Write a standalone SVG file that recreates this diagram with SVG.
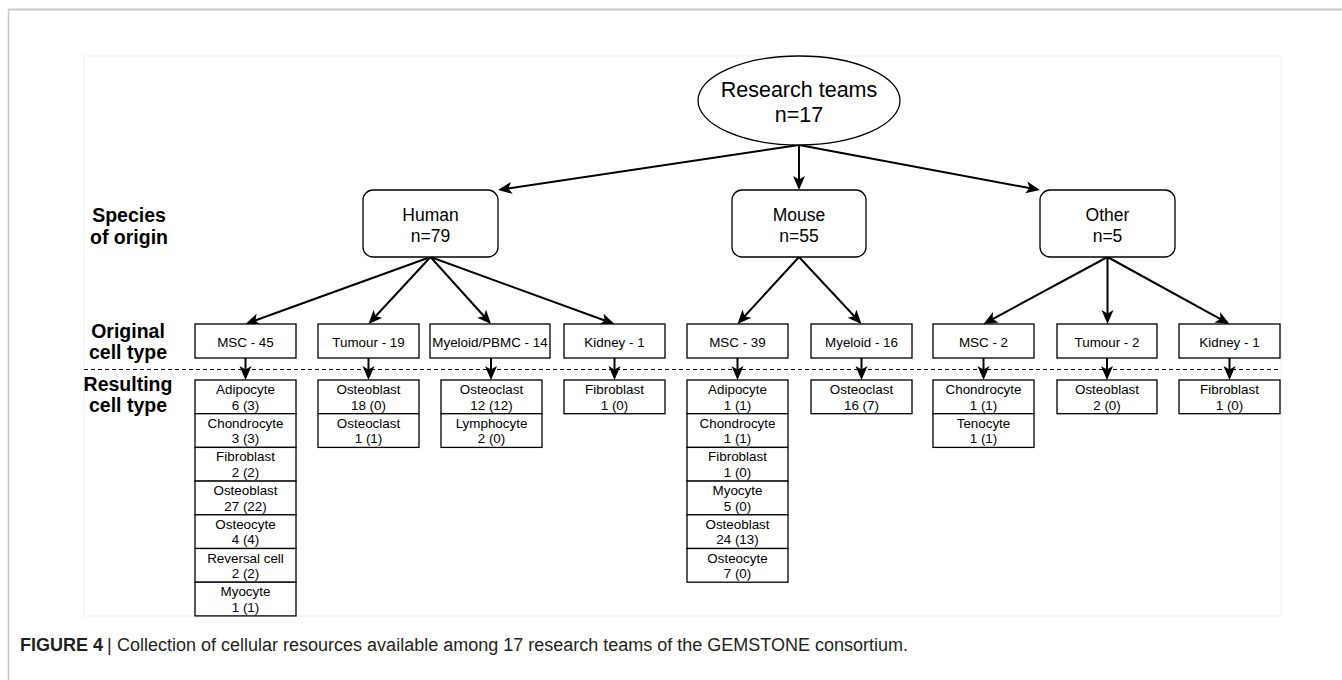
<svg xmlns="http://www.w3.org/2000/svg" width="1342" height="680" viewBox="0 0 1342 680">
<defs>
<style>
.box{fill:#fff;stroke:#000;stroke-width:1.3}
.rbox{fill:#fff;stroke:#000;stroke-width:1.3}
.t{font-family:"Liberation Sans",Arial,sans-serif;font-size:13.4px;text-anchor:middle;fill:#000}
.sp{font-size:17.5px}
.top{font-size:21.5px}
.lbl{font-family:"Liberation Sans",Arial,sans-serif;font-weight:bold;font-size:19.5px;text-anchor:middle;fill:#000}
.conn{stroke:#000;stroke-width:2;fill:none;marker-end:url(#arr)}
.cap{font-family:"Liberation Sans",Arial,sans-serif;font-size:18px;fill:#231f20}
</style>
<marker id="arr" markerUnits="userSpaceOnUse" markerWidth="16" markerHeight="14" viewBox="0 0 16 14" refX="11" refY="6" orient="auto">
<path d="M0,0 L14,6 L0,12 L3.5,6 Z" fill="#000"/>
</marker>
</defs>
<rect x="0" y="0" width="1342" height="680" fill="#fff"/>
<g id="frame">
<line x1="8" y1="9.5" x2="1342" y2="9.5" stroke="#c9c9c9" stroke-width="2"/>
<line x1="8.5" y1="9" x2="8.5" y2="680" stroke="#c9c9c9" stroke-width="1.5"/>
<rect x="84" y="56" width="1197" height="560" fill="none" stroke="#f0f0f0" stroke-width="1"/>
</g>
<g id="row-labels">
<text class="lbl" x="129" y="222">Species</text>
<text class="lbl" x="129" y="243.5">of origin</text>
<text class="lbl" x="128" y="338">Original</text>
<text class="lbl" x="128" y="359">cell type</text>
<text class="lbl" x="128" y="391">Resulting</text>
<text class="lbl" x="128" y="412">cell type</text>
</g>
<line id="divider" x1="84" y1="369.5" x2="1281" y2="369.5" stroke="#000" stroke-width="1" stroke-dasharray="4 3"/>
<g id="connectors">
<line class="conn" x1="799" y1="145" x2="500.97" y2="189.56"/>
<line class="conn" x1="799" y1="145" x2="799" y2="187"/>
<line class="conn" x1="799" y1="145" x2="1037.05" y2="189.45"/>
<line class="conn" x1="430.5" y1="257" x2="248.32" y2="322.98"/>
<line class="conn" x1="430.5" y1="257" x2="370.54" y2="321.8"/>
<line class="conn" x1="430.5" y1="257" x2="488.99" y2="321.77"/>
<line class="conn" x1="430.5" y1="257" x2="611.68" y2="322.97"/>
<line class="conn" x1="799" y1="257" x2="739.52" y2="321.78"/>
<line class="conn" x1="799" y1="257" x2="859.46" y2="321.8"/>
<line class="conn" x1="1107.5" y1="257" x2="986.13" y2="322.56"/>
<line class="conn" x1="1107.5" y1="257" x2="1107.5" y2="321"/>
<line class="conn" x1="1107.5" y1="257" x2="1226.87" y2="322.56"/>
<line class="conn" x1="245.5" y1="358" x2="245.5" y2="377"/>
<line class="conn" x1="368.5" y1="358" x2="368.5" y2="377"/>
<line class="conn" x1="491" y1="358" x2="491" y2="377"/>
<line class="conn" x1="614.5" y1="358" x2="614.5" y2="377"/>
<line class="conn" x1="737.5" y1="358" x2="737.5" y2="377"/>
<line class="conn" x1="861.5" y1="358" x2="861.5" y2="377"/>
<line class="conn" x1="983.5" y1="358" x2="983.5" y2="377"/>
<line class="conn" x1="1107" y1="358" x2="1107" y2="377"/>
<line class="conn" x1="1229.5" y1="358" x2="1229.5" y2="377"/>
</g>
<g id="research-teams">
<ellipse cx="799" cy="100.5" rx="101" ry="44.5" fill="#fff" stroke="#000" stroke-width="1.3"/>
<text class="t top" x="799" y="97">Research teams</text>
<text class="t top" x="799" y="122">n=17</text>
</g>
<g id="human">
<rect class="box" x="363" y="190" width="135" height="67" rx="10"/>
<text class="t sp" x="430.5" y="221">Human</text>
<text class="t sp" x="430.5" y="241.5">n=79</text>
</g>
<g id="mouse">
<rect class="box" x="732" y="190" width="134" height="67" rx="10"/>
<text class="t sp" x="799" y="221">Mouse</text>
<text class="t sp" x="799" y="241.5">n=55</text>
</g>
<g id="other">
<rect class="box" x="1040" y="190" width="135" height="67" rx="10"/>
<text class="t sp" x="1107.5" y="221">Other</text>
<text class="t sp" x="1107.5" y="241.5">n=5</text>
</g>
<g id="ct-human-msc"><rect class="box" x="195" y="324" width="101" height="34"/><text class="t" x="245.5" y="346.5">MSC - 45</text></g>
<g id="ct-human-tumour"><rect class="box" x="318" y="324" width="101" height="34"/><text class="t" x="368.5" y="346.5">Tumour - 19</text></g>
<g id="ct-human-myeloid"><rect class="box" x="430" y="324" width="120" height="34"/><text class="t" x="490" y="346.5">Myeloid/PBMC - 14</text></g>
<g id="ct-human-kidney"><rect class="box" x="564" y="324" width="101" height="34"/><text class="t" x="614.5" y="346.5">Kidney - 1</text></g>
<g id="ct-mouse-msc"><rect class="box" x="687" y="324" width="101" height="34"/><text class="t" x="737.5" y="346.5">MSC - 39</text></g>
<g id="ct-mouse-myeloid"><rect class="box" x="811" y="324" width="101" height="34"/><text class="t" x="861.5" y="346.5">Myeloid - 16</text></g>
<g id="ct-other-msc"><rect class="box" x="933" y="324" width="101" height="34"/><text class="t" x="983.5" y="346.5">MSC - 2</text></g>
<g id="ct-other-tumour"><rect class="box" x="1057" y="324" width="100" height="34"/><text class="t" x="1107" y="346.5">Tumour - 2</text></g>
<g id="ct-other-kidney"><rect class="box" x="1179" y="324" width="101" height="34"/><text class="t" x="1229.5" y="346.5">Kidney - 1</text></g>

<g id="res-human-msc">
<g id="r-hm-1"><rect class="rbox" x="195" y="380" width="101" height="33.7"/><text class="t" x="245.5" y="394">Adipocyte</text><text class="t" x="245.5" y="409.5">6 (3)</text></g>
<g id="r-hm-2"><rect class="rbox" x="195" y="413.7" width="101" height="33.7"/><text class="t" x="245.5" y="427.7">Chondrocyte</text><text class="t" x="245.5" y="443.2">3 (3)</text></g>
<g id="r-hm-3"><rect class="rbox" x="195" y="447.4" width="101" height="33.7"/><text class="t" x="245.5" y="461.4">Fibroblast</text><text class="t" x="245.5" y="476.9">2 (2)</text></g>
<g id="r-hm-4"><rect class="rbox" x="195" y="481.1" width="101" height="33.7"/><text class="t" x="245.5" y="495.1">Osteoblast</text><text class="t" x="245.5" y="510.6">27 (22)</text></g>
<g id="r-hm-5"><rect class="rbox" x="195" y="514.8" width="101" height="33.7"/><text class="t" x="245.5" y="528.8">Osteocyte</text><text class="t" x="245.5" y="544.3">4 (4)</text></g>
<g id="r-hm-6"><rect class="rbox" x="195" y="548.5" width="101" height="33.7"/><text class="t" x="245.5" y="562.5">Reversal cell</text><text class="t" x="245.5" y="578">2 (2)</text></g>
<g id="r-hm-7"><rect class="rbox" x="195" y="582.2" width="101" height="33.7"/><text class="t" x="245.5" y="596.2">Myocyte</text><text class="t" x="245.5" y="611.7">1 (1)</text></g>
</g>
<g id="res-human-tumour">
<g id="r-ht-1"><rect class="rbox" x="318" y="380" width="101" height="33.7"/><text class="t" x="368.5" y="394">Osteoblast</text><text class="t" x="368.5" y="409.5">18 (0)</text></g>
<g id="r-ht-2"><rect class="rbox" x="318" y="413.7" width="101" height="33.7"/><text class="t" x="368.5" y="427.7">Osteoclast</text><text class="t" x="368.5" y="443.2">1 (1)</text></g>
</g>
<g id="res-human-myeloid">
<g id="r-hy-1"><rect class="rbox" x="441" y="380" width="101" height="33.7"/><text class="t" x="491.5" y="394">Osteoclast</text><text class="t" x="491.5" y="409.5">12 (12)</text></g>
<g id="r-hy-2"><rect class="rbox" x="441" y="413.7" width="101" height="33.7"/><text class="t" x="491.5" y="427.7">Lymphocyte</text><text class="t" x="491.5" y="443.2">2 (0)</text></g>
</g>
<g id="res-human-kidney">
<g id="r-hk-1"><rect class="rbox" x="564" y="380" width="101" height="33.7"/><text class="t" x="614.5" y="394">Fibroblast</text><text class="t" x="614.5" y="409.5">1 (0)</text></g>
</g>
<g id="res-mouse-msc">
<g id="r-mm-1"><rect class="rbox" x="687" y="380" width="101" height="33.7"/><text class="t" x="737.5" y="394">Adipocyte</text><text class="t" x="737.5" y="409.5">1 (1)</text></g>
<g id="r-mm-2"><rect class="rbox" x="687" y="413.7" width="101" height="33.7"/><text class="t" x="737.5" y="427.7">Chondrocyte</text><text class="t" x="737.5" y="443.2">1 (1)</text></g>
<g id="r-mm-3"><rect class="rbox" x="687" y="447.4" width="101" height="33.7"/><text class="t" x="737.5" y="461.4">Fibroblast</text><text class="t" x="737.5" y="476.9">1 (0)</text></g>
<g id="r-mm-4"><rect class="rbox" x="687" y="481.1" width="101" height="33.7"/><text class="t" x="737.5" y="495.1">Myocyte</text><text class="t" x="737.5" y="510.6">5 (0)</text></g>
<g id="r-mm-5"><rect class="rbox" x="687" y="514.8" width="101" height="33.7"/><text class="t" x="737.5" y="528.8">Osteoblast</text><text class="t" x="737.5" y="544.3">24 (13)</text></g>
<g id="r-mm-6"><rect class="rbox" x="687" y="548.5" width="101" height="33.7"/><text class="t" x="737.5" y="562.5">Osteocyte</text><text class="t" x="737.5" y="578">7 (0)</text></g>
</g>
<g id="res-mouse-myeloid">
<g id="r-my-1"><rect class="rbox" x="811" y="380" width="101" height="33.7"/><text class="t" x="861.5" y="394">Osteoclast</text><text class="t" x="861.5" y="409.5">16 (7)</text></g>
</g>
<g id="res-other-msc">
<g id="r-om-1"><rect class="rbox" x="933" y="380" width="101" height="33.7"/><text class="t" x="983.5" y="394">Chondrocyte</text><text class="t" x="983.5" y="409.5">1 (1)</text></g>
<g id="r-om-2"><rect class="rbox" x="933" y="413.7" width="101" height="33.7"/><text class="t" x="983.5" y="427.7">Tenocyte</text><text class="t" x="983.5" y="443.2">1 (1)</text></g>
</g>
<g id="res-other-tumour">
<g id="r-ot-1"><rect class="rbox" x="1057" y="380" width="100" height="33.7"/><text class="t" x="1107" y="394">Osteoblast</text><text class="t" x="1107" y="409.5">2 (0)</text></g>
</g>
<g id="res-other-kidney">
<g id="r-ok-1"><rect class="rbox" x="1179" y="380" width="101" height="33.7"/><text class="t" x="1229.5" y="394">Fibroblast</text><text class="t" x="1229.5" y="409.5">1 (0)</text></g>
</g>
<g id="caption">
<text class="cap" x="20" y="651" font-weight="bold" font-size="16px">FIGURE 4</text>
<text class="cap" x="107" y="651" fill="#8c8c8c">|</text>
<text class="cap" x="117" y="651">Collection of cellular resources available among 17 research teams of the GEMSTONE consortium.</text>
</g>
</svg>
